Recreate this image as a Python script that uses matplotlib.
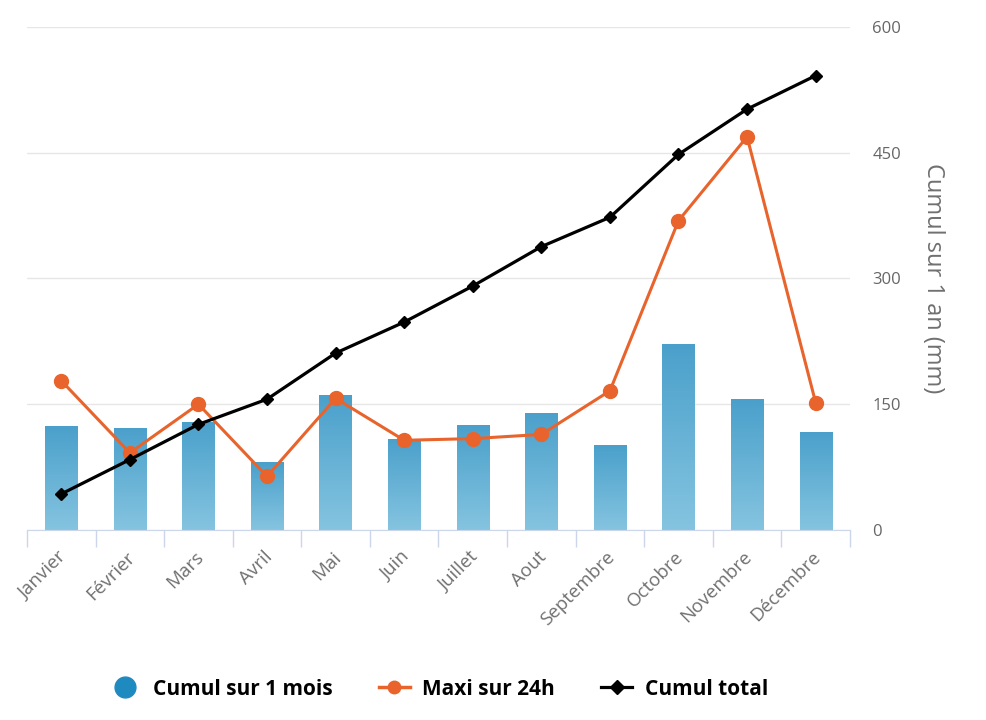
import matplotlib.pyplot as plt
import matplotlib.transforms as mtransforms
import numpy as np
from matplotlib.lines import Line2D

# monthly rainfall (mm)
mois = ["Janvier", "Février", "Mars", "Avril", "Mai", "Juin", "Juillet",
        "Aout", "Septembre", "Octobre", "Novembre", "Décembre"]
cumul_mois = [124, 122, 129, 81, 161, 109, 125, 140, 101, 222, 156, 117]
maxi_24h = [178, 92, 150, 64, 157, 107, 109, 114, 166, 369, 469, 152]
cumul_total = [43, 84, 126, 156, 211, 248, 291, 338, 373, 448, 502, 542]
graduations = [0, 150, 300, 450, 600]

plt.rcParams["font.family"] = ["Open Sans", "DejaVu Sans"]

fig = plt.figure(figsize=(9.86, 7.2), dpi=100)
ax = fig.add_axes([0.0274, 0.2639, 0.8346, 0.6986])

x = np.arange(len(mois))

# bars with a vertical gradient, darker at the top
bars = ax.bar(x, cumul_mois, width=0.47, color="none", zorder=2)
grad = np.linspace(0, 1, 256).reshape(-1, 1)
cmap = plt.matplotlib.colors.LinearSegmentedColormap.from_list(
    "bleu", ["#4aa0cb", "#85c4e0"])
for b in bars:
    x0, y0 = b.get_x(), b.get_y()
    img = ax.imshow(grad, cmap=cmap, aspect="auto", zorder=2, origin="upper",
                    extent=(x0, x0 + b.get_width(), y0, y0 + b.get_height()))
    img.set_clip_path(b)
ax.set_xlim(-0.5, len(mois) - 0.5)
ax.set_ylim(0, 600)

ax.plot(x, maxi_24h, color="#e8642c", lw=2.2, marker="o", ms=10, zorder=3)
ax.plot(x, cumul_total, color="black", lw=2.3, marker="D", ms=6, zorder=4)

# axes styling
for s in ["top", "left", "right"]:
    ax.spines[s].set_visible(False)
ax.spines["bottom"].set_color("#ccd6eb")
ax.yaxis.tick_right()
ax.yaxis.set_label_position("right")
ax.set_yticks(graduations)
ax.tick_params(axis="y", length=0, pad=16, labelsize=12, labelcolor="#666666")
ax.grid(axis="y", color="#e6e6e6", lw=1)
ax.set_axisbelow(True)
ax.set_ylabel("Cumul sur 1 an (mm)", rotation=270, labelpad=32,
              fontsize=17, color="#707070")

ax.set_xticks(x)
ax.set_xticklabels(mois, rotation=45, ha="right", rotation_mode="anchor",
                   fontsize=13.5, color="#707070")
ax.tick_params(axis="x", which="major", length=0, pad=13)
shift = mtransforms.ScaledTranslation(-4 / 100, 0, fig.dpi_scale_trans)
for lab in ax.get_xticklabels():
    lab.set_transform(lab.get_transform() + shift)
ax.set_xticks(np.arange(-0.5, len(mois)), minor=True)
ax.tick_params(axis="x", which="minor", length=12, color="#ccd6eb", width=1)

handles = [
    Line2D([], [], ls="none", marker="o", ms=15, color="#1f8ac0"),
    Line2D([], [], color="#e8642c", lw=2.5, marker="o", ms=9),
    Line2D([], [], color="black", lw=2.3, marker="D", ms=7),
]
fig.legend(handles, ["Cumul sur 1 mois", "Maxi sur 24h", "Cumul total"],
           loc="center", bbox_to_anchor=(0.445, 0.043), ncol=3, frameon=False,
           prop={"weight": "bold", "size": 15}, handlelength=1.5,
           columnspacing=2.2, handletextpad=0.6)

fig.savefig("out.png", dpi=100)
